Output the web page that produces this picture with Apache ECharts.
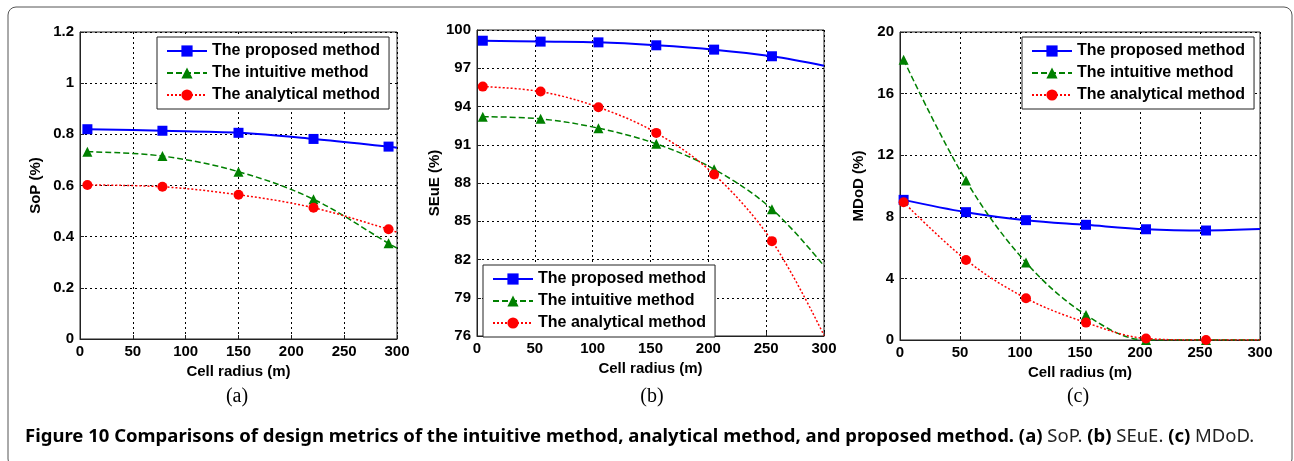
<!DOCTYPE html>
<html>
<head>
<meta charset="utf-8">
<script src="https://cdn.jsdelivr.net/npm/echarts@6/dist/echarts.min.js"></script>
<style>
    html, body { margin: 0; padding: 0; background: #fff; }
    #chart { width: 1294px; height: 461px; }
</style>
</head>
<body>
<div id="chart"></div>
<script>
// names
const methodNames = ['The proposed method', 'The intuitive method', 'The analytical method'];

// (a) SoP -- last point (300) is the end of the curve, no marker
const radiusA = [7, 78, 150, 221, 292, 300];
const sopProposed = [0.82, 0.814, 0.806, 0.782, 0.752, 0.748];
const sopIntuitive = [0.732, 0.715, 0.654, 0.546, 0.374, 0.355];
const sopAnalytical = [0.602, 0.595, 0.564, 0.513, 0.429, 0.417];

// (b) SEuE
const radiusB = [5, 55, 105, 155, 205, 255, 300];
const seueProposed = [99.16, 99.09, 99.03, 98.8, 98.46, 97.94, 97.2];
const seueIntuitive = [93.2, 93.03, 92.3, 91.07, 89.08, 85.95, 81.5];
const seueAnalytical = [95.56, 95.17, 93.94, 91.93, 88.67, 83.44, 76.05];

// (c) MDoD
const radiusC = [3, 55, 105, 155, 205, 255, 300];
const mdodProposed = [9.1, 8.3, 7.78, 7.48, 7.19, 7.11, 7.2];
const mdodIntuitive = [18.2, 10.35, 5.03, 1.63, 0, 0, 0];
const mdodAnalytical = [8.95, 5.2, 2.71, 1.13, 0.1, 0, 0];

// tick labels
const radiusTicks = [0, 50, 100, 150, 200, 250, 300];
const sopTicks = [0, 0.2, 0.4, 0.6, 0.8, 1, 1.2];
const seueTicks = [76, 79, 82, 85, 88, 91, 94, 97, 100];
const mdodTicks = [0, 4, 8, 12, 16, 20];

const chart = echarts.init(document.getElementById('chart'));

const font = 'Arial, "Liberation Sans", sans-serif';
const colors = ['#0000ff', '#008000', '#ff0000'];
const symbols = ['rect', 'triangle', 'circle'];
const lineTypes = ['solid', [6, 3], [2, 2]];
const lineWidths = [2, 1.5, 1.5];

// (b) axis starts at 76 which is not a multiple of 3, so plot offset values
const seueBase = seueTicks[0];

const makeSeries = (idx, xs, ysList, offset) => ysList.map((ys, k) => ({
    name: methodNames[k],
    type: 'line',
    xAxisIndex: idx,
    yAxisIndex: idx,
    smooth: 0.35,
    clip: true,
    symbol: symbols[k],
    symbolSize: 10,
    color: colors[k],
    lineStyle: { color: colors[k], width: lineWidths[k], type: lineTypes[k] },
    itemStyle: { color: colors[k] },
    data: xs.map((x, i) => x === 300
        ? { value: [x, ys[i] - (offset || 0)], symbol: 'none' }
        : { value: [x, ys[i] - (offset || 0)] })
}));

const grids = [
    { left: 80, top: 32, width: 317, height: 307 },
    { left: 477, top: 30, width: 347, height: 306 },
    { left: 900, top: 32, width: 360, height: 308 }
].map(g => Object.assign(g, { show: true, borderColor: '#222', borderWidth: 1, backgroundColor: 'transparent' }));

const splitStyle = { show: true, lineStyle: { color: '#000', type: [2, 3], width: 1 } };
const labelStyle = { color: '#000', fontFamily: font, fontWeight: 'bold', fontSize: 15 };
const nameStyle = { color: '#000', fontFamily: font, fontWeight: 'bold', fontSize: 15 };

const xAxes = [0, 1, 2].map(i => ({
    type: 'value',
    gridIndex: i,
    min: radiusTicks[0],
    max: radiusTicks[radiusTicks.length - 1],
    interval: radiusTicks[1] - radiusTicks[0],
    name: 'Cell radius (m)',
    nameLocation: 'middle',
    nameGap: [21, 23, 21][i],
    nameTextStyle: nameStyle,
    axisLine: { lineStyle: { color: '#222', width: 1 } },
    axisTick: { inside: true, length: 4, lineStyle: { color: '#222' } },
    axisLabel: Object.assign({ margin: 5 }, labelStyle),
    splitLine: splitStyle
}));

const yAxes = [
    {
        gridIndex: 0, min: sopTicks[0], max: sopTicks[sopTicks.length - 1],
        interval: sopTicks[1] - sopTicks[0], name: 'SoP (%)', nameGap: 37
    },
    {
        gridIndex: 1, min: 0, max: seueTicks[seueTicks.length - 1] - seueBase,
        interval: seueTicks[1] - seueTicks[0], name: 'SEuE (%)', nameGap: 34,
        formatter: v => String(v + seueBase)
    },
    {
        gridIndex: 2, min: mdodTicks[0], max: mdodTicks[mdodTicks.length - 1],
        interval: mdodTicks[1] - mdodTicks[0], name: 'MDoD (%)', nameGap: 34
    }
].map(a => ({
    type: 'value',
    gridIndex: a.gridIndex,
    min: a.min,
    max: a.max,
    interval: a.interval,
    name: a.name,
    nameLocation: 'middle',
    nameGap: a.nameGap,
    nameTextStyle: nameStyle,
    axisLine: { show: true, lineStyle: { color: '#222', width: 1 } },
    axisTick: { show: true, inside: true, length: 4, lineStyle: { color: '#222' } },
    axisLabel: Object.assign({ margin: 6, formatter: a.formatter }, labelStyle),
    splitLine: splitStyle
}));

const legendBase = {
    orient: 'vertical',
    data: methodNames,
    backgroundColor: '#fff',
    borderColor: '#222',
    borderWidth: 1,
    borderRadius: 0,
    padding: [6, 9, 6, 9],
    itemGap: 6,
    itemWidth: 40,
    itemHeight: 14,
    selectedMode: false,
    textStyle: { color: '#000', fontFamily: font, fontWeight: 'bold', fontSize: 16 }
};

const subLabel = (txt, x) => ({
    type: 'text', x: x, y: 397,
    style: { text: txt, font: '20px "Liberation Serif", "Times New Roman", serif', fill: '#000', align: 'center', verticalAlign: 'middle' }
});

const option = {
    animation: false,
    backgroundColor: '#fff',
    grid: grids,
    xAxis: xAxes,
    yAxis: yAxes,
    legend: [
        Object.assign({ left: 157, top: 37 }, legendBase),
        Object.assign({ left: 483, top: 265 }, legendBase),
        Object.assign({ left: 1022, top: 37 }, legendBase)
    ],
    graphic: [
        {
            type: 'rect',
            shape: { x: 8, y: 7, width: 1284, height: 460, r: 8 },
            style: { fill: 'none', stroke: '#555', lineWidth: 1 },
            silent: true
        },
        subLabel('(a)', 237),
        subLabel('(b)', 652),
        subLabel('(c)', 1078),
        {
            type: 'text', x: 25, y: 437,
            style: {
                text: '{b|Figure 10 Comparisons of design metrics of the intuitive method, analytical method, and proposed method. (a)} {r|SoP.} {b|(b)} {r|SEuE.} {b|(c)} {r|MDoD.}',
                verticalAlign: 'middle',
                rich: {
                    b: { fontFamily: '"Noto Sans", sans-serif', fontWeight: 'bold', fontSize: 18.5, fill: '#000' },
                    r: { fontFamily: '"Noto Sans", sans-serif', fontWeight: 'normal', fontSize: 18.5, fill: '#222' }
                },
                font: '18.5px "Noto Sans", sans-serif'
            }
        }
    ],
    series: [
        ...makeSeries(0, radiusA, [sopProposed, sopIntuitive, sopAnalytical]),
        ...makeSeries(1, radiusB, [seueProposed, seueIntuitive, seueAnalytical], seueBase),
        ...makeSeries(2, radiusC, [mdodProposed, mdodIntuitive, mdodAnalytical])
    ]
};

chart.setOption(option);
window.addEventListener('resize', () => chart.resize());
</script>
</body>
</html>
